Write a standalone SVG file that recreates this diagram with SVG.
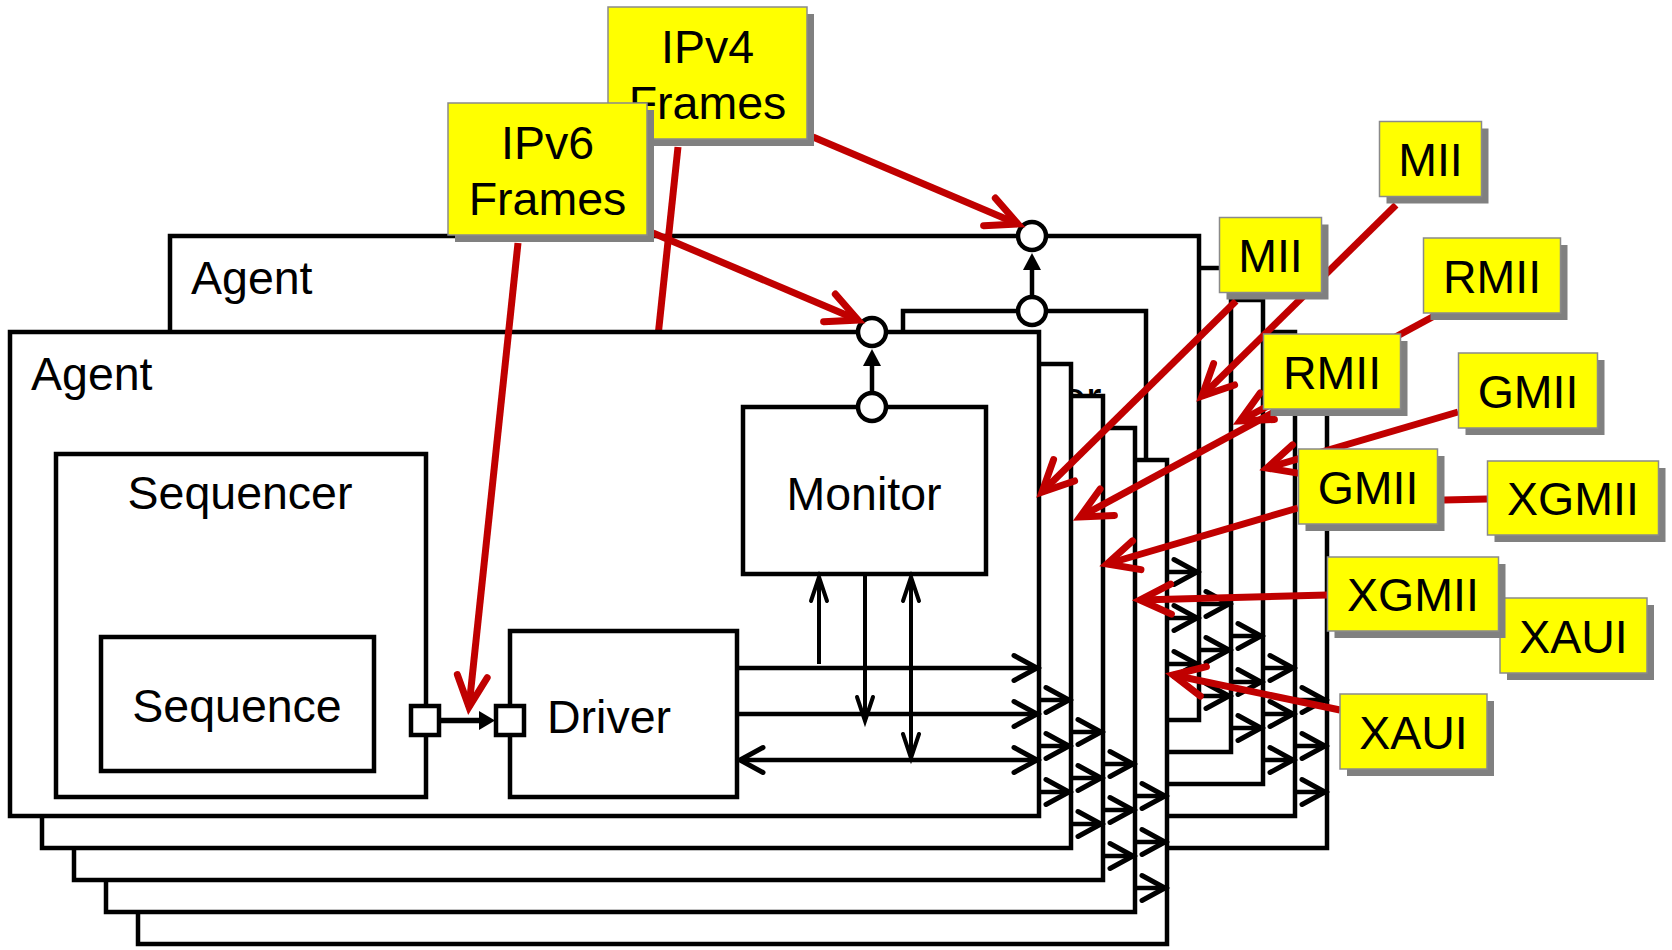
<svg xmlns="http://www.w3.org/2000/svg" width="1672" height="950" viewBox="0 0 1672 950">
<defs>
<marker id="bh" markerUnits="userSpaceOnUse" orient="auto-start-reverse" markerWidth="1" markerHeight="1" refX="0" refY="0" style="overflow:visible"><path d="M-23,-12.5 L0,0 L-23,12.5" fill="none" stroke="#000" stroke-width="5" stroke-linecap="round"/></marker>
<marker id="vh" markerUnits="userSpaceOnUse" orient="auto-start-reverse" markerWidth="1" markerHeight="1" refX="0" refY="0" style="overflow:visible"><path d="M-24,-8 L0,0 L-24,8" fill="none" stroke="#000" stroke-width="4" stroke-linecap="round"/></marker>
<marker id="rh" markerUnits="userSpaceOnUse" orient="auto-start-reverse" markerWidth="1" markerHeight="1" refX="0" refY="0" style="overflow:visible"><path d="M-31,-15 L0,0 L-31,15" fill="none" stroke="#C00000" stroke-width="7" stroke-linecap="round"/></marker>
</defs>
<style>
.fr{fill:#fff;stroke:#000;stroke-width:4.5}
.ln{fill:none;stroke:#000;stroke-width:4.5}
.tn{fill:none;stroke:#000;stroke-width:4}
.t{font-family:"Liberation Sans",Arial,sans-serif;font-size:46.5px;fill:#000}
.s{fill:#808080}
.b{fill:#ffff00;stroke:#8a8a8a;stroke-width:1.5}
.ra{fill:none;stroke:#C00000;stroke-width:7}
</style>
<rect x="0" y="0" width="1672" height="950" fill="#fff"/>

<!-- back stack frames -->
<g id="back-frame-4"><rect class="fr" x="298" y="364" width="1029" height="484"/>
<g class="ln" marker-end="url(#bh)"><line x1="1290" y1="700" x2="1325" y2="700"/><line x1="1290" y1="746" x2="1325" y2="746"/><line x1="1290" y1="792" x2="1325" y2="792"/></g></g>
<g id="back-frame-3"><rect class="fr" x="266" y="332" width="1029" height="484"/>
<g class="ln" marker-end="url(#bh)"><line x1="1258" y1="668" x2="1293" y2="668"/><line x1="1258" y1="714" x2="1293" y2="714"/><line x1="1258" y1="760" x2="1293" y2="760"/></g></g>
<g id="back-frame-2"><rect class="fr" x="234" y="300" width="1029" height="484"/>
<g class="ln" marker-end="url(#bh)"><line x1="1226" y1="636" x2="1261" y2="636"/><line x1="1226" y1="682" x2="1261" y2="682"/><line x1="1226" y1="728" x2="1261" y2="728"/></g></g>
<g id="back-frame-1"><rect class="fr" x="202" y="268" width="1029" height="484"/>
<g class="ln" marker-end="url(#bh)"><line x1="1194" y1="604" x2="1229" y2="604"/><line x1="1194" y1="650" x2="1229" y2="650"/><line x1="1194" y1="696" x2="1229" y2="696"/></g></g>

<!-- back agent -->
<g id="agent-back">
<rect class="fr" x="170" y="236" width="1029" height="484"/>
<text class="t" x="191" y="294">Agent</text>
<g transform="translate(160,-96)">
<rect class="fr" x="743" y="407" width="243" height="167"/>
<text class="t" x="864" y="510" text-anchor="middle">Monitor</text>
<line class="ln" x1="872" y1="393" x2="872" y2="364"/>
<polygon points="863,366 872,349 881,366" fill="#000"/>
<circle class="fr" cx="872" cy="332" r="14"/>
<circle class="fr" cx="872" cy="407" r="14"/>
</g>
<g class="ln" marker-end="url(#bh)"><line x1="1160" y1="572" x2="1197" y2="572"/><line x1="1160" y1="618" x2="1197" y2="618"/><line x1="1160" y1="664" x2="1197" y2="664"/></g>
</g>

<!-- connectors to the back agent -->
<g id="connectors-back">
<line class="ra" x1="813" y1="137" x2="1018" y2="224" marker-end="url(#rh)"/>
<line class="ra" x1="678" y1="147" x2="629" y2="611" marker-end="url(#rh)"/>
<line class="ra" x1="1396" y1="205" x2="1202" y2="396" marker-end="url(#rh)"/>
<line class="ra" x1="1438" y1="314" x2="1240" y2="421" marker-end="url(#rh)"/>
<line class="ra" x1="1458" y1="412" x2="1267" y2="468" marker-end="url(#rh)"/>
<line class="ra" x1="1487" y1="499" x2="1316" y2="503"/>
</g>

<!-- front stack frames -->
<g id="front-frame-4"><rect class="fr" x="138" y="460" width="1029" height="484"/>
<g class="ln" marker-end="url(#bh)"><line x1="1130" y1="796" x2="1165" y2="796"/><line x1="1130" y1="842" x2="1165" y2="842"/><line x1="1130" y1="888" x2="1165" y2="888"/></g></g>
<g id="front-frame-3"><rect class="fr" x="106" y="428" width="1029" height="484"/>
<g class="ln" marker-end="url(#bh)"><line x1="1098" y1="764" x2="1133" y2="764"/><line x1="1098" y1="810" x2="1133" y2="810"/><line x1="1098" y1="856" x2="1133" y2="856"/></g></g>
<g id="front-frame-2"><rect class="fr" x="74" y="396" width="1029" height="484"/>
<g class="ln" marker-end="url(#bh)"><line x1="1066" y1="732" x2="1101" y2="732"/><line x1="1066" y1="778" x2="1101" y2="778"/><line x1="1066" y1="824" x2="1101" y2="824"/></g></g>
<g id="front-frame-1"><rect class="fr" x="42" y="364" width="1029" height="484"/>
<g class="ln" marker-end="url(#bh)"><line x1="1034" y1="700" x2="1069" y2="700"/><line x1="1034" y1="746" x2="1069" y2="746"/><line x1="1034" y1="792" x2="1069" y2="792"/></g></g>

<!-- front agent -->
<g id="agent-front">
<rect class="fr" x="10" y="332" width="1029" height="484"/>
<text class="t" x="31" y="390">Agent</text>
<g id="sequencer"><rect class="fr" x="56" y="454" width="370" height="343"/>
<text class="t" x="240" y="509" text-anchor="middle">Sequencer</text></g>
<g id="sequence"><rect class="fr" x="101" y="637" width="273" height="134"/>
<text class="t" x="237" y="722" text-anchor="middle">Sequence</text></g>
<g id="driver"><rect class="fr" x="510" y="631" width="227" height="166"/>
<text class="t" x="547" y="733">Driver</text></g>
<g id="monitor"><rect class="fr" x="743" y="407" width="243" height="167"/>
<text class="t" x="864" y="510" text-anchor="middle">Monitor</text></g>
<rect class="fr" x="411" y="706" width="28" height="29"/>
<rect class="fr" x="496" y="706" width="28" height="29"/>
<line x1="439" y1="720.5" x2="482" y2="720.5" stroke="#000" stroke-width="5.5"/>
<polygon points="479,711 495,720.5 479,730" fill="#000"/>
<line class="ln" x1="872" y1="393" x2="872" y2="364"/>
<polygon points="863,366 872,349 881,366" fill="#000"/>
<circle class="fr" cx="872" cy="332" r="14"/>
<circle class="fr" cx="872" cy="407" r="14"/>
<g class="ln">
<line x1="737" y1="668" x2="1037" y2="668" marker-end="url(#bh)"/>
<line x1="737" y1="714" x2="1037" y2="714" marker-end="url(#bh)"/>
<line x1="740" y1="760" x2="1037" y2="760" marker-start="url(#bh)" marker-end="url(#bh)"/>
</g>
<g class="tn">
<line x1="819" y1="664" x2="819" y2="577" marker-end="url(#vh)"/>
<line x1="865" y1="576" x2="865" y2="721" marker-end="url(#vh)"/>
<line x1="911" y1="577" x2="911" y2="758" marker-start="url(#vh)" marker-end="url(#vh)"/>
</g>
</g>

<!-- back labels -->
<g id="lbl-ipv4"><rect class="s" x="615" y="14" width="199" height="132"/><rect class="b" x="608" y="7" width="199" height="132"/>
<text class="t" x="707.5" y="63" text-anchor="middle">IPv4</text><text class="t" x="707.5" y="119" text-anchor="middle">Frames</text></g>
<g id="lbl-mii-b"><rect class="s" x="1386.5" y="128.5" width="102" height="75"/><rect class="b" x="1379.5" y="121.5" width="102" height="75"/>
<text class="t" x="1430.5" y="176" text-anchor="middle">MII</text></g>
<g id="lbl-rmii-b"><rect class="s" x="1430.5" y="245" width="137" height="75"/><rect class="b" x="1423.5" y="238" width="137" height="75"/>
<text class="t" x="1492" y="292.5" text-anchor="middle">RMII</text></g>
<g id="lbl-gmii-b"><rect class="s" x="1465.5" y="360" width="139" height="75"/><rect class="b" x="1458.5" y="353" width="139" height="75"/>
<text class="t" x="1528" y="407.5" text-anchor="middle">GMII</text></g>
<g id="lbl-xgmii-b"><rect class="s" x="1494.5" y="468" width="171" height="74"/><rect class="b" x="1487.5" y="461" width="171" height="74"/>
<text class="t" x="1573" y="515" text-anchor="middle">XGMII</text></g>
<g id="lbl-xaui-b"><rect class="s" x="1507" y="605" width="147" height="75"/><rect class="b" x="1500" y="598" width="147" height="75"/>
<text class="t" x="1573.5" y="652.5" text-anchor="middle">XAUI</text></g>

<!-- connectors to the front agent -->
<g id="connectors-front">
<line class="ra" x1="653" y1="233" x2="858" y2="320" marker-end="url(#rh)"/>
<line class="ra" x1="518" y1="243" x2="469" y2="707" marker-end="url(#rh)"/>
<line class="ra" x1="1236" y1="301" x2="1042" y2="492" marker-end="url(#rh)"/>
<line class="ra" x1="1278" y1="410" x2="1080" y2="517" marker-end="url(#rh)"/>
<line class="ra" x1="1298" y1="508" x2="1107" y2="564" marker-end="url(#rh)"/>
<line class="ra" x1="1327" y1="595" x2="1140" y2="600" marker-end="url(#rh)"/>
<line class="ra" x1="1340" y1="710" x2="1173" y2="675" marker-end="url(#rh)"/>
</g>

<!-- front labels -->
<g id="lbl-ipv6"><rect class="s" x="455" y="110" width="199" height="132"/><rect class="b" x="448" y="103" width="199" height="132"/>
<text class="t" x="547.5" y="159" text-anchor="middle">IPv6</text><text class="t" x="547.5" y="215" text-anchor="middle">Frames</text></g>
<g id="lbl-mii-f"><rect class="s" x="1226.5" y="224.5" width="102" height="75"/><rect class="b" x="1219.5" y="217.5" width="102" height="75"/>
<text class="t" x="1270.5" y="272" text-anchor="middle">MII</text></g>
<g id="lbl-rmii-f"><rect class="s" x="1270.5" y="341" width="137" height="75"/><rect class="b" x="1263.5" y="334" width="137" height="75"/>
<text class="t" x="1332" y="388.5" text-anchor="middle">RMII</text></g>
<g id="lbl-gmii-f"><rect class="s" x="1305.5" y="456" width="139" height="75"/><rect class="b" x="1298.5" y="449" width="139" height="75"/>
<text class="t" x="1368" y="503.5" text-anchor="middle">GMII</text></g>
<g id="lbl-xgmii-f"><rect class="s" x="1334.5" y="564" width="171" height="74"/><rect class="b" x="1327.5" y="557" width="171" height="74"/>
<text class="t" x="1413" y="611" text-anchor="middle">XGMII</text></g>
<g id="lbl-xaui-f"><rect class="s" x="1347" y="701" width="147" height="75"/><rect class="b" x="1340" y="694" width="147" height="75"/>
<text class="t" x="1413.5" y="748.5" text-anchor="middle">XAUI</text></g>
</svg>
